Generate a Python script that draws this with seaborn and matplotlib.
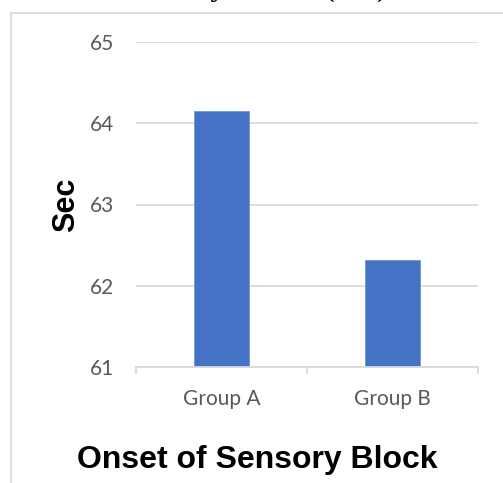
import matplotlib
matplotlib.use("Agg")
import matplotlib.pyplot as plt
from matplotlib.patches import Rectangle
import seaborn as sns
import pandas as pd

# Mean onset of sensory block per group (seconds)
groups = ["Group A", "Group B"]
onset_sec = [64.15, 62.32]
y_ticks = [61, 62, 63, 64, 65]

df = pd.DataFrame({"group": groups, "sec": onset_sec})

sns.set_theme(style="white")
plt.rcParams["font.family"] = ["Lato", "DejaVu Sans"]

W, H, DPI = 503, 483, 100
fig = plt.figure(figsize=(W / DPI, H / DPI), dpi=DPI)
fig.patch.set_facecolor("white")

def px(x, y):
    """pixel position (from top-left) -> figure fraction"""
    return x / W, 1 - y / H

# plot area
left, right, top, bottom = 136, 478, 42, 367
ax = fig.add_axes([left / W, 1 - bottom / H, (right - left) / W, (bottom - top) / H])

sns.barplot(data=df, x="group", y="sec", color="#4472C4", width=0.316,
            saturation=1, ax=ax, edgecolor="#6f93d3", linewidth=0.6)

ax.set_xlim(-0.5, 1.5)
ax.set_ylim(y_ticks[0], y_ticks[-1])
ax.set_yticks(y_ticks)
ax.set_yticklabels([str(t) for t in y_ticks])
ax.yaxis.grid(True, color="#d9d9d9", linewidth=1.3)
ax.set_axisbelow(True)
for s in ["top", "right", "left"]:
    ax.spines[s].set_visible(False)
ax.spines["bottom"].set_color("#d9d9d9")
ax.spines["bottom"].set_linewidth(1.3)

ax.set_xticks([0, 1])
ax.set_xticks([-0.5, 0.5, 1.5], minor=True)
ax.tick_params(axis="x", which="major", length=0, pad=16, labelsize=15, labelcolor="#595959")
ax.tick_params(axis="x", which="minor", length=5, width=1.3, color="#d9d9d9", bottom=True)
ax.tick_params(axis="y", length=0, pad=16, labelsize=15, labelcolor="#595959")
ax.set_xlabel("")
ax.set_ylabel("")

# axis titles
fig.text(*px(66, 205), "Sec", rotation=90, ha="center", va="center",
         fontsize=22, fontweight="bold", family=["Liberation Sans", "DejaVu Sans"], color="black")
fig.text(*px(257, 468), "Onset of Sensory Block", ha="center", va="baseline",
         fontsize=23, fontweight="bold", family=["Liberation Sans", "DejaVu Sans"], color="black")

# chart heading above the frame
fig.text(*px(-3, -5), "Onset of Sensory Block (sec)", ha="left", va="baseline",
         fontsize=24, family=["Liberation Serif", "DejaVu Serif"], color="black")

# chart frame
fig.add_artist(Rectangle(px(11, 520), (560) / W, (520 - 12.7) / H, transform=fig.transFigure,
                         fill=False, edgecolor="#d9d9d9", linewidth=1.3))

fig.savefig("out.png", dpi=DPI, facecolor="white")
